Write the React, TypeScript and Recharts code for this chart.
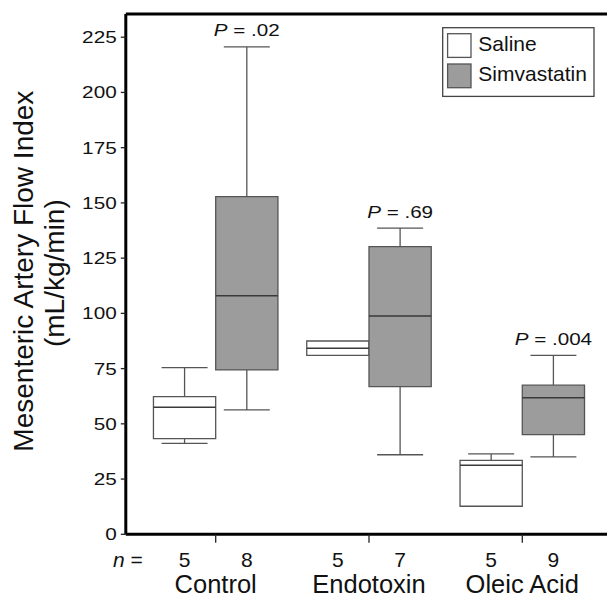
import React from 'react';
import {
  ComposedChart,
  XAxis,
  YAxis,
  ReferenceArea,
  ReferenceLine,
  ReferenceDot,
  Legend,
} from 'recharts';

const FONT = '"Liberation Sans", Arial, Helvetica, sans-serif';

// ---- data ----
const categories = ['Control', 'Endotoxin', 'Oleic Acid'];
const categoryPositions = [1, 2, 3];
const seriesNames = ['Saline', 'Simvastatin'];
const seriesFills = ['#ffffff', '#9c9c9c'];

const salineN = [5, 5, 5];
const salineMin = [41.2, 81.0, 12.7];
const salineQ1 = [43.3, 81.0, 12.7];
const salineMedian = [57.5, 84.2, 31.2];
const salineQ3 = [62.3, 87.5, 33.5];
const salineMax = [75.4, 87.5, 36.4];

const simvaN = [8, 7, 9];
const simvaMin = [56.3, 36.0, 35.0];
const simvaQ1 = [74.4, 66.8, 45.1];
const simvaMedian = [108.0, 98.8, 61.8];
const simvaQ3 = [152.8, 130.2, 67.5];
const simvaMax = [220.6, 138.6, 81.0];

const pLabels = ['.02', '.69', '.004'];
const yTicks = [0, 25, 50, 75, 100, 125, 150, 175, 200, 225];

// ---- layout constants ----
const Y_MAX = 235.5;
const X_MIN = 0.4136;
const X_MAX = 3.5526;
const BOX_OFFSET = 0.203;
const BOX_HALF = 0.203;
const CAP_HALF = 0.15;
const STROKE = '#555555';

type Box = {
  x: number;
  min: number;
  q1: number;
  med: number;
  q3: number;
  max: number;
  fill: string;
  n: number;
};

const boxes: Box[] = [];
categories.forEach((_, g) => {
  boxes.push({
    x: categoryPositions[g] - BOX_OFFSET,
    min: salineMin[g],
    q1: salineQ1[g],
    med: salineMedian[g],
    q3: salineQ3[g],
    max: salineMax[g],
    fill: seriesFills[0],
    n: salineN[g],
  });
  boxes.push({
    x: categoryPositions[g] + BOX_OFFSET,
    min: simvaMin[g],
    q1: simvaQ1[g],
    med: simvaMedian[g],
    q3: simvaQ3[g],
    max: simvaMax[g],
    fill: seriesFills[1],
    n: simvaN[g],
  });
});

type TickInfo = { value: number; kind: 'nlabel' | 'n' | 'cat'; label: string };
const tickInfos: TickInfo[] = [{ value: X_MIN, kind: 'nlabel', label: 'n' }];
boxes.forEach((b) => tickInfos.push({ value: b.x, kind: 'n', label: String(b.n) }));
categories.forEach((c, g) =>
  tickInfos.push({ value: categoryPositions[g], kind: 'cat', label: c })
);
tickInfos.sort((a, b) => a.value - b.value);
const xTicks = tickInfos.map((t) => t.value);

const findTick = (v: number) => {
  let best = tickInfos[0];
  tickInfos.forEach((t) => {
    if (Math.abs(t.value - v) < Math.abs(best.value - v)) best = t;
  });
  return best;
};

const XTick = (props: any) => {
  const { x, y, payload } = props;
  const info = findTick(payload.value);
  if (info.kind === 'nlabel') {
    return (
      <text x={x + 2} y={y + 32.4} textAnchor="middle" fontSize={21} fill="#111" fontFamily={FONT}>
        <tspan fontStyle="italic">n</tspan> =
      </text>
    );
  }
  if (info.kind === 'n') {
    return (
      <text x={x} y={y + 32.4} textAnchor="middle" fontSize={21} fill="#111" fontFamily={FONT}>
        {info.label}
      </text>
    );
  }
  return (
    <g>
      <line x1={x} y1={y} x2={x} y2={y + 8.5} stroke="#222" strokeWidth={1.3} />
      <text x={x} y={y + 59} textAnchor="middle" fontSize={25.5} fill="#111" fontFamily={FONT}>
        {info.label}
      </text>
    </g>
  );
};

const YTick = (props: any) => {
  const { x, y, payload } = props;
  return (
    <g transform={`translate(${x},${y + 6}) scale(1.22,1)`}>
      <text x={0} y={0} textAnchor="end" fontSize={17} fill="#111" fontFamily={FONT}>
        {payload.value}
      </text>
    </g>
  );
};

const YLabel = (props: any) => {
  const vb = props.viewBox || { x: 0, y: 14, width: 125.8, height: 520.3 };
  const cy = vb.y + vb.height / 2;
  return (
    <g fontFamily={FONT} fill="#111" fontSize={28}>
      <text transform={`translate(33.3,${cy - 3}) rotate(-90)`} textAnchor="middle">
        Mesenteric Artery Flow Index
      </text>
      <text transform={`translate(64,${cy - 1}) rotate(-90)`} textAnchor="middle">
        (mL/kg/min)
      </text>
    </g>
  );
};

const makePLabel = (text: string) => (props: any) => {
  const vb = props.viewBox;
  if (!vb) return null;
  const cx = vb.x + (vb.width || 0) / 2;
  const cy = vb.y + (vb.height || 0) / 2;
  return (
    <g transform={`translate(${cx},${cy - 10.5}) scale(1.25,1)`}>
      <text x={0} y={0} textAnchor="middle" fontSize={16.5} fill="#111" fontFamily={FONT}>
        <tspan fontStyle="italic">P</tspan> = {text}
      </text>
    </g>
  );
};

const LegendContent = () => (
  <svg width={154} height={72} style={{ display: 'block' }}>
    <rect x={0.7} y={0.7} width={151.3} height={68.7} fill="#fff" stroke="#444" strokeWidth={1.3} />
    {seriesNames.map((name, i) => (
      <g key={name}>
        <rect
          x={5.6}
          y={6.7 + i * 30.3}
          width={23.4}
          height={23.7}
          fill={seriesFills[i]}
          stroke="#555"
          strokeWidth={1.3}
        />
        <text x={36.3} y={24.4 + i * 30} fontSize={21} fill="#111" fontFamily={FONT}>
          {name}
        </text>
      </g>
    ))}
  </svg>
);

export default function App() {
  return (
    <div style={{ position: 'absolute', left: 0, top: 0 }}>
      <ComposedChart
        width={607}
        height={599}
        data={boxes}
        margin={{ top: 14, right: 0, bottom: 0, left: 0 }}
      >
        <XAxis
          dataKey="x"
          type="number"
          domain={[X_MIN, X_MAX]}
          allowDataOverflow
          ticks={xTicks}
          interval={0}
          height={64.7}
          tickSize={0}
          tickMargin={0}
          tickLine={false}
          axisLine={{ stroke: '#000', strokeWidth: 3 }}
          tick={<XTick />}
        />
        <YAxis
          type="number"
          domain={[0, Y_MAX]}
          allowDataOverflow
          ticks={yTicks}
          interval={0}
          width={125.8}
          tickSize={5}
          tickMargin={4.1}
          tickLine={{ stroke: '#222', strokeWidth: 1.3 }}
          axisLine={{ stroke: '#000', strokeWidth: 3 }}
          tick={<YTick />}
          label={{ content: (p: any) => <YLabel {...p} /> }}
        />
        <ReferenceLine y={Y_MAX} stroke="#000" strokeWidth={3} />
        {boxes.map((b, i) =>
          b.max > b.q3 ? (
            <ReferenceLine
              key={'uw' + i}
              segment={[
                { x: b.x, y: b.q3 },
                { x: b.x, y: b.max },
              ]}
              stroke={STROKE}
              strokeWidth={1.3}
            />
          ) : null
        )}
        {boxes.map((b, i) =>
          b.max > b.q3 ? (
            <ReferenceLine
              key={'uc' + i}
              segment={[
                { x: b.x - CAP_HALF, y: b.max },
                { x: b.x + CAP_HALF, y: b.max },
              ]}
              stroke={STROKE}
              strokeWidth={1.3}
            />
          ) : null
        )}
        {boxes.map((b, i) =>
          b.min < b.q1 ? (
            <ReferenceLine
              key={'lw' + i}
              segment={[
                { x: b.x, y: b.min },
                { x: b.x, y: b.q1 },
              ]}
              stroke={STROKE}
              strokeWidth={1.3}
            />
          ) : null
        )}
        {boxes.map((b, i) =>
          b.min < b.q1 ? (
            <ReferenceLine
              key={'lc' + i}
              segment={[
                { x: b.x - CAP_HALF, y: b.min },
                { x: b.x + CAP_HALF, y: b.min },
              ]}
              stroke={STROKE}
              strokeWidth={1.3}
            />
          ) : null
        )}
        {boxes.map((b, i) => (
          <ReferenceArea
            key={'box' + i}
            x1={b.x - BOX_HALF}
            x2={b.x + BOX_HALF}
            y1={b.q1}
            y2={b.q3}
            fill={b.fill}
            fillOpacity={1}
            stroke={STROKE}
            strokeWidth={1.3}
          />
        ))}
        {boxes.map((b, i) => (
          <ReferenceLine
            key={'med' + i}
            segment={[
              { x: b.x - BOX_HALF, y: b.med },
              { x: b.x + BOX_HALF, y: b.med },
            ]}
            stroke="#3a3a3a"
            strokeWidth={1.5}
          />
        ))}
        {categories.map((c, g) => (
          <ReferenceDot
            key={'p' + g}
            x={categoryPositions[g] + BOX_OFFSET}
            y={simvaMax[g]}
            r={0}
            fill="none"
            stroke="none"
            label={{ content: makePLabel(pLabels[g]) }}
          />
        ))}
        <Legend
          layout="vertical"
          align="center"
          verticalAlign="middle"
          content={<LegendContent />}
          wrapperStyle={{ left: 442, top: 27, width: 154, height: 72, margin: 0, padding: 0 }}
        />
      </ComposedChart>
    </div>
  );
}
